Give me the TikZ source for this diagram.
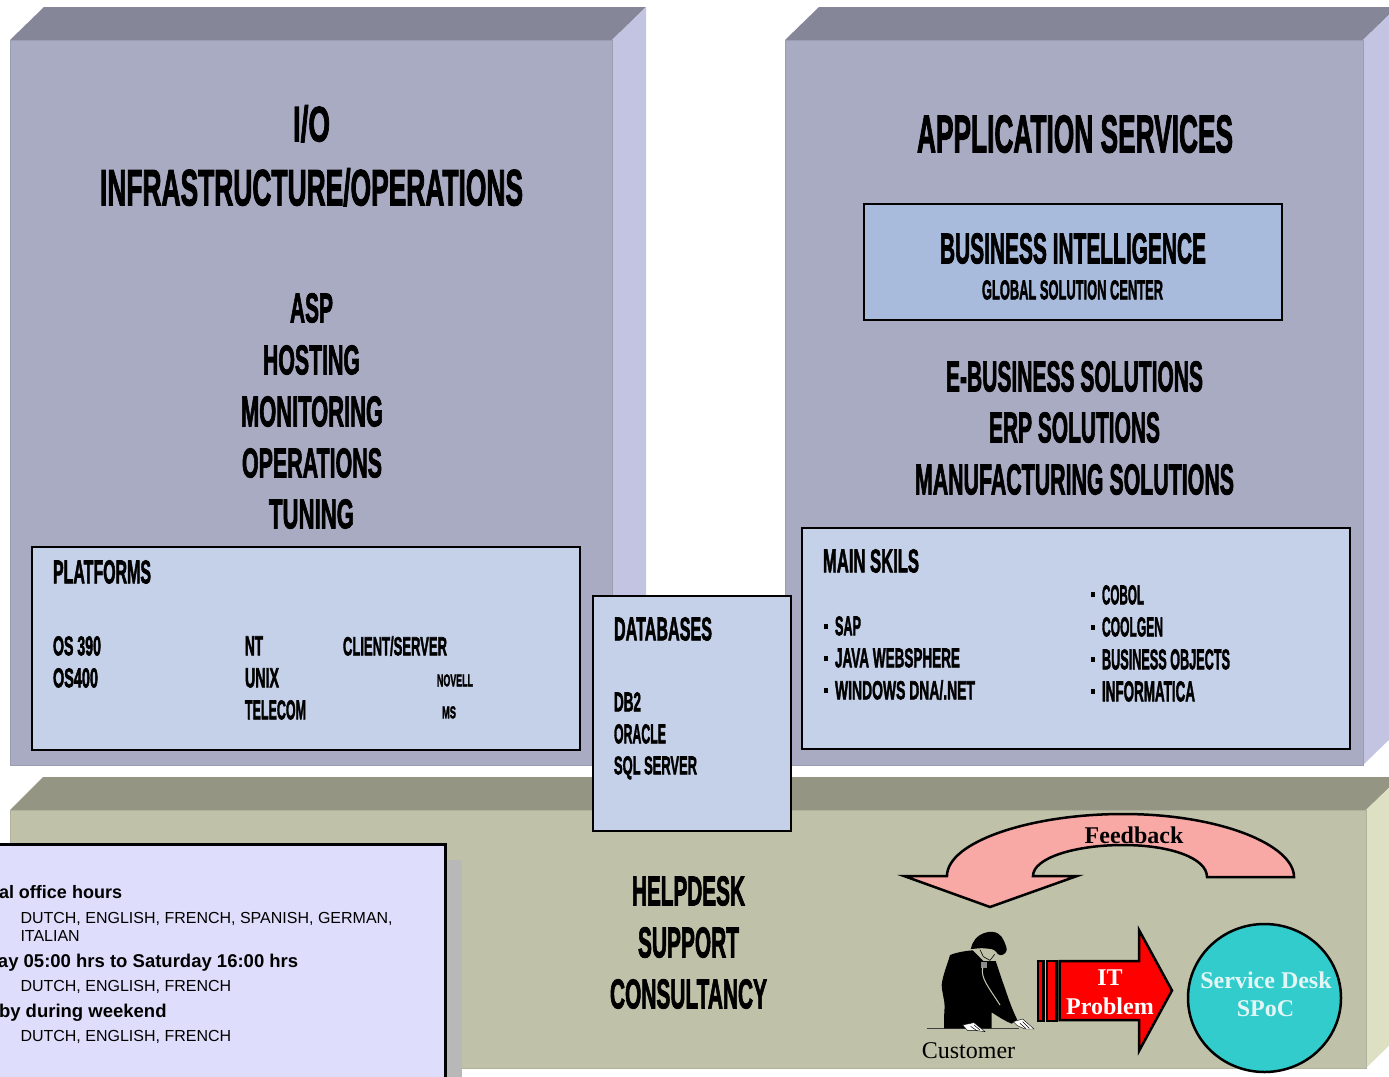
\documentclass[tikz,border=0pt]{standalone}
\usepackage{graphicx}
\usepackage{fontspec}
\usetikzlibrary{shapes.geometric}
\setmainfont{Liberation Sans}
\newfontfamily\cf[BoldFeatures={FakeBold=2.5}]{Liberation Sans}
\newfontfamily\tf{Liberation Serif}
\definecolor{bfront}{HTML}{A9ABC3}
\definecolor{btop}{HTML}{858698}
\definecolor{bside}{HTML}{C3C4E1}
\definecolor{gfront}{HTML}{BFC2A8}
\definecolor{gtop}{HTML}{949582}
\definecolor{gside}{HTML}{DDE0C3}
\definecolor{panelblue}{HTML}{C5D1E8}
\definecolor{bipanel}{HTML}{A8BBDC}
\definecolor{hoursfill}{HTML}{DEDEFC}
\definecolor{dropshadow}{HTML}{B8B8B8}
\definecolor{pinkarrow}{HTML}{F8A8A5}
\definecolor{spoc}{HTML}{33CCCC}
\definecolor{spoctext}{HTML}{E2F6F6}
\tikzset{
  x=1pt,y=-1pt,
  infobox/.style={draw=black,line width=2.8pt,fill=panelblue,outer sep=0pt,inner sep=0pt,anchor=north west},
  bigarrow/.style={draw=black,line width=2.5pt,miter limit=10},
  cndtext/.style={inner sep=0pt,outer sep=0pt,anchor=base west,text=black},
  serifb/.style={inner sep=0pt,outer sep=0pt,anchor=base,font=\tf\bfseries\fontsize{24}{24}\selectfont},
  hoursb/.style={inner sep=0pt,outer sep=0pt,anchor=base west,font=\bfseries\fontsize{18.5}{20}\selectfont},
  hoursr/.style={inner sep=0pt,outer sep=0pt,anchor=base west,font=\fontsize{16}{20}\selectfont},
}
% name, x-left, x-right, y-top, baseline, text
\newcommand{\cnd}[6]{\node[cndtext] (#1) at (#2,#5-0.7) {\resizebox{\dimexpr#3pt-#2pt\relax}{\dimexpr#5pt-#4pt\relax}{\cf\bfseries #6}};}
\newcommand{\blt}[2]{\fill (#1-2.2,#2-2.6) rectangle (#1+1.8,#2+2.4);}
\begin{document}
\begin{tikzpicture}
\useasboundingbox (0,0) rectangle (1389,1076);
\clip (0,0) rectangle (1389,1076);
% left block
\fill[btop] (10,40) -- (44,7) -- (646,7) -- (612,40) -- cycle;
\fill[bside] (612,40) -- (646,7) -- (646,732) -- (612,765) -- cycle;
\fill[bfront,draw=bfront!92!black,line width=.8pt] (10,40) rectangle (612,765);
% right block
\fill[btop] (785,40) -- (819,7) -- (1397,7) -- (1363,40) -- cycle;
\fill[bside] (1363,40) -- (1397,7) -- (1397,732) -- (1363,765) -- cycle;
\fill[bfront,draw=bfront!92!black,line width=.8pt] (785,40) rectangle (1363,765);
% green block
\fill[gtop] (10,810) -- (43,777) -- (1400,777) -- (1366,810) -- cycle;
\fill[gside] (1366,810) -- (1400,777) -- (1400,1035) -- (1366,1068) -- cycle;
\fill[gfront,draw=gfront!92!black,line width=.8pt] (10,810) rectangle (1366,1068);

% left block texts
\cnd{io}{293}{330}{106}{142}{I/O}
\cnd{infra}{100}{523}{169}{206}{INFRASTRUCTURE/OPERATIONS}
\cnd{asp}{290}{333}{294}{323}{ASP}
\cnd{hosting}{263}{360}{346}{375}{HOSTING}
\cnd{monitoring}{241}{383}{397}{427}{MONITORING}
\cnd{operations}{242}{382}{449}{478}{OPERATIONS}
\cnd{tuning}{269}{354}{500}{529}{TUNING}
% platforms
\node[infobox,minimum width=548pt,minimum height=203pt] (platforms) at (32,547) {};
\cnd{pl}{53}{151}{561}{584}{PLATFORMS}
\cnd{os390}{53}{101}{637}{656}{OS 390}
\cnd{os400}{53}{98}{669}{688}{OS400}
\cnd{nt}{245}{263}{637}{656}{NT}
\cnd{client}{343}{447}{637}{656}{CLIENT/SERVER}
\cnd{unix}{245}{279}{669}{688}{UNIX}
\cnd{novell}{437}{473}{675}{687}{NOVELL}
\cnd{telecom}{245}{306}{701}{720}{TELECOM}
\cnd{ms}{442}{456}{707}{719}{MS}

% right block texts
\cnd{app}{917}{1233}{116}{153}{APPLICATION SERVICES}
\node[infobox,fill=bipanel,minimum width=418pt,minimum height=116pt] (bibox) at (864,204) {};
\cnd{bi}{940}{1206}{234}{264}{BUSINESS INTELLIGENCE}
\cnd{gsc}{982}{1163}{281}{300}{GLOBAL SOLUTION CENTER}
\cnd{ebus}{946}{1203}{362}{392}{E-BUSINESS SOLUTIONS}
\cnd{erp}{989}{1160}{413}{443}{ERP SOLUTIONS}
\cnd{manuf}{915}{1234}{465}{495}{MANUFACTURING SOLUTIONS}
\node[infobox,minimum width=548pt,minimum height=221pt] (skills) at (802,528) {};
\cnd{skil}{823}{919}{550}{573}{MAIN SKILS}
\blt{826.5}{626.5}\cnd{sap}{835}{861}{617}{636}{SAP}
\blt{826.5}{658.5}\cnd{java}{835}{960}{649}{668}{JAVA WEBSPHERE}
\blt{826.5}{690.5}\cnd{win}{835}{975}{681}{700}{WINDOWS DNA/.NET}
\blt{1093.5}{595}\cnd{cobol}{1102}{1144}{586}{605}{COBOL}
\blt{1093.5}{627.5}\cnd{coolgen}{1102}{1163}{618}{637}{COOLGEN}
\blt{1093.5}{660}\cnd{bo}{1102}{1230}{650}{670}{BUSINESS OBJECTS}
\blt{1093.5}{692}\cnd{inf}{1102}{1195}{682}{702}{INFORMATICA}

% databases
\node[infobox,minimum width=198pt,minimum height=235pt] (dbbox) at (593,596) {};
\cnd{db}{614}{712}{618}{641}{DATABASES}
\cnd{db2}{614}{641}{693}{712}{DB2}
\cnd{oracle}{614}{666}{725}{744}{ORACLE}
\cnd{sql}{614}{697}{757}{775}{SQL SERVER}

% helpdesk
\cnd{help}{632}{745}{877}{906}{HELPDESK}
\cnd{supp}{638}{739}{928}{958}{SUPPORT}
\cnd{cons}{610}{767}{980}{1009}{CONSULTANCY}

% hours panel
\fill[dropshadow] (446,860) rectangle (462,1080);
\draw[fill=hoursfill,line width=2.8pt] (-5,844.5) rectangle (445.5,1085);
\node[hoursb,font=\bfseries\fontsize{18}{20}\selectfont] (h1) at (-1,898) {al office hours};
\node[hoursr] (l1) at (20.5,923) {DUTCH, ENGLISH, FRENCH, SPANISH, GERMAN,};
\node[hoursr] (l1b) at (20.5,941.5) {ITALIAN};
\node[hoursb] (h2) at (-2,967) {ay 05:00 hrs to Saturday 16:00 hrs};
\node[hoursr] (l2) at (20.5,991) {DUTCH, ENGLISH, FRENCH};
\node[hoursb] (h3) at (-1,1017) {by during weekend};
\node[hoursr] (l3) at (20.5,1041) {DUTCH, ENGLISH, FRENCH};

% feedback arrow
\draw[bigarrow,fill=pinkarrow] (1294,877) .. controls (1294,845) and (1220,814) .. (1123,814)
  .. controls (1030,814) and (947,842) .. (947,876) -- (904,876) -- (990,907) -- (1077,876) -- (1033,876)
  .. controls (1033,858) and (1075,845) .. (1123,845)
  .. controls (1170,845) and (1207,858) .. (1207,877) -- cycle;
\node[serifb] (fb) at (1134,843) {Feedback};

% customer figure
\begin{scope}[shift={(930,925)},x=.3333pt,y=-.3333pt]
\draw[line width=.9pt,black!75] (-10,310) -- (268,310);
\fill[black] (128,76) .. controls (100,78) and (75,84) .. (60,90)
  .. controls (52,120) and (38,150) .. (35,180) .. controls (36,205) and (44,225) .. (44,245)
  .. controls (42,270) and (42,290) .. (42,310) -- (185,310) -- (185,262)
  .. controls (205,275) and (225,288) .. (245,296) -- (262,285)
  .. controls (245,250) and (235,220) .. (225,190) .. controls (212,155) and (205,130) .. (197,108)
  -- (160,108) -- cycle;
\fill[gfront] (128,72) -- (150,66) -- (175,68) -- (197,82) -- (190,104) -- (165,106) -- (150,94) -- cycle;
\draw[black,line width=.6pt] (150,74) -- (160,95) -- (180,106) -- (194,88);
\fill[black] (122,72) .. controls (128,50) and (138,30) .. (170,22) .. controls (198,16) and (214,28) .. (222,48)
  .. controls (226,60) and (236,74) .. (226,84) .. controls (215,94) and (204,92) .. (198,80)
  .. controls (190,70) and (178,72) .. (165,70) .. controls (150,68) and (134,72) .. (122,72) -- cycle;
\fill[black!45] (152,112) rectangle (172,128);
\draw[gfront!90!white,line width=1pt] (158,128) .. controls (152,160) and (175,185) .. (210,240);
\fill[white,draw=black,line width=.4pt] (98,300) -- (132,293) -- (165,320) -- (135,316) -- (112,316) -- cycle;
\fill[white,draw=black,line width=.4pt] (250,290) -- (278,282) -- (312,312) -- (285,312) -- (262,302) -- cycle;
\draw[black,line width=.5pt] (132,300) -- (150,315) (122,304) -- (142,318) (278,290) -- (298,310) (270,295) -- (288,311);
\end{scope}
\node[inner sep=0pt,outer sep=0pt,anchor=base,font=\tf\fontsize{24}{24}\selectfont] (cust) at (968.5,1058) {Customer};

% IT problem arrow
\fill[red,draw=black,line width=2.2pt] (1038,961) rectangle (1043.5,1021);
\fill[red,draw=black,line width=2.2pt] (1047,961) rectangle (1056.5,1021);
\draw[bigarrow,fill=red] (1059.5,961) -- (1139,961) -- (1139,930) -- (1172,990.5) -- (1139,1051) -- (1139,1020) -- (1059.5,1020) -- cycle;
\node[serifb,text=white] (it) at (1110,985) {IT};
\node[serifb,text=white] (prob) at (1110,1014) {Problem};

% service desk
\node[draw=black,fill=spoc,line width=2.5pt,ellipse,inner sep=0pt,outer sep=0pt,minimum width=153pt,minimum height=148pt] (circle) at (1264.5,998) {};
\node[serifb,text=spoctext] (sd) at (1266,988) {Service Desk};
\node[serifb,text=spoctext] (spoc) at (1265.5,1016.5) {SPoC};
\end{tikzpicture}
\end{document}
